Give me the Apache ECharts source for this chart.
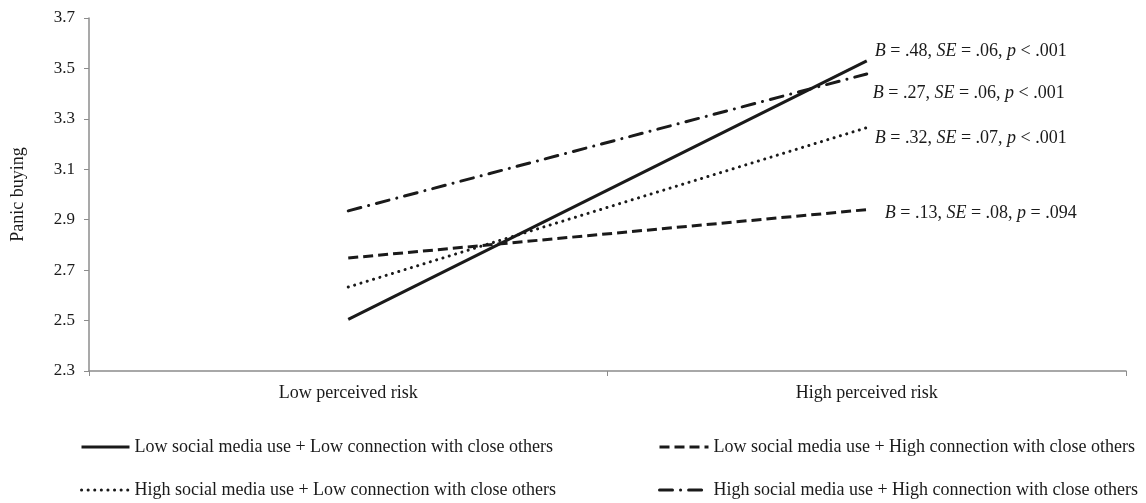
<!DOCTYPE html>
<html>
<head>
<meta charset="utf-8">
<script src="https://cdn.jsdelivr.net/npm/echarts@6/dist/echarts.min.js"></script>
<style>
  html, body { margin: 0; padding: 0; background: #fff; }
  #chart { width: 1146px; height: 503px; }
</style>
</head>
<body>
<div id="chart"></div>
<script>
// Perceived risk conditions on the x axis
const categories = ['Low perceived risk', 'High perceived risk'];
const yTicks = [2.3, 2.5, 2.7, 2.9, 3.1, 3.3, 3.5, 3.7];

// Predicted panic buying for each moderator combination
const lowSmLowConn = [2.505, 3.53];
const lowSmHighConn = [2.748, 2.94];
const highSmLowConn = [2.633, 3.265];
const highSmHighConn = [2.935, 3.478];

const seriesNames = [
  'Low social media use + Low connection with close others',
  'Low social media use + High connection with close others',
  'High social media use + Low connection with close others',
  'High social media use + High connection with close others'
];

// Simple slope statistics: [B, SE, p relation, p value]
const slopeStats = [
  ['.48', '.06', '<', '.001'],
  ['.13', '.08', '=', '.094'],
  ['.32', '.07', '<', '.001'],
  ['.27', '.06', '<', '.001']
];

const serif = '"Liberation Serif", "Times New Roman", serif';
const ink = '#1a1a1a';

function statLabel(s) {
  return '{i|B} = ' + s[0] + ', {i|SE} = ' + s[1] + ', {i|p} ' + s[2] + ' ' + s[3];
}

function endLabel(i, offset) {
  return {
    show: true,
    formatter: () => statLabel(slopeStats[i]),
    offset: offset,
    fontFamily: serif,
    fontSize: 18,
    color: ink,
    rich: { i: { fontStyle: 'italic', fontFamily: serif, fontSize: 18, color: ink } }
  };
}

const styles = [
  { type: 'solid', width: 3 },
  { type: [10, 5], width: 3 },
  { type: [0.1, 6.5], width: 3, cap: 'round' },
  { type: [13, 8, 0.1, 8], width: 3, cap: 'round' }
];
const dataSets = [lowSmLowConn, lowSmHighConn, highSmLowConn, highSmHighConn];
const offsets = [[0, -10], [10, 4], [0, 11], [-2, 19]];

const series = dataSets.map((d, i) => ({
  name: seriesNames[i],
  type: 'line',
  data: d,
  showSymbol: false,
  symbol: 'none',
  silent: true,
  animation: false,
  lineStyle: {
    color: ink,
    width: styles[i].width,
    type: styles[i].type,
    cap: styles[i].cap || 'butt'
  },
  itemStyle: { color: ink },
  endLabel: endLabel(i, offsets[i]),
  labelLayout: { hideOverlap: false }
}));

// Two-column legend below the plot
const legendPos = [
  { left: 80, top: 438 },
  { left: 658, top: 438 },
  { left: 80, top: 481 },
  { left: 658, top: 481 }
];
const legends = seriesNames.map((n, i) => ({
  data: [n],
  left: legendPos[i].left,
  top: legendPos[i].top,
  padding: 0,
  orient: 'horizontal',
  itemWidth: i % 2 === 0 ? 48 : 49,
  itemHeight: 18,
  selectedMode: false,
  itemStyle: { opacity: 0 },
  lineStyle: { width: 3, color: ink },
  textStyle: { fontFamily: serif, fontSize: 18, color: ink }
}));

const chart = echarts.init(document.getElementById('chart'), null, { renderer: 'canvas' });
chart.setOption({
  backgroundColor: '#ffffff',
  animation: false,
  grid: { left: 89, right: 20, top: 18, bottom: 132 },
  legend: legends,
  xAxis: {
    type: 'category',
    data: categories,
    boundaryGap: true,
    axisLine: { lineStyle: { color: '#8c8c8c', width: 1.5 } },
    axisTick: { show: true, length: 5, lineStyle: { color: '#8c8c8c' } },
    axisLabel: { fontFamily: serif, fontSize: 18, color: ink, margin: 13 }
  },
  yAxis: {
    type: 'value',
    min: yTicks[0],
    max: yTicks[yTicks.length - 1],
    interval: 0.2,
    name: 'Panic buying',
    nameLocation: 'middle',
    nameGap: 62,
    nameRotate: 90,
    nameTextStyle: { fontFamily: serif, fontSize: 18, color: ink },
    axisLine: { show: true, lineStyle: { color: '#8c8c8c', width: 1.5 } },
    axisTick: { show: true, length: 5, lineStyle: { color: '#8c8c8c' } },
    splitLine: { show: false },
    axisLabel: {
      fontFamily: serif, fontSize: 17, color: ink, margin: 14,
      formatter: v => v.toFixed(1)
    }
  },
  series: series
});
</script>
</body>
</html>
